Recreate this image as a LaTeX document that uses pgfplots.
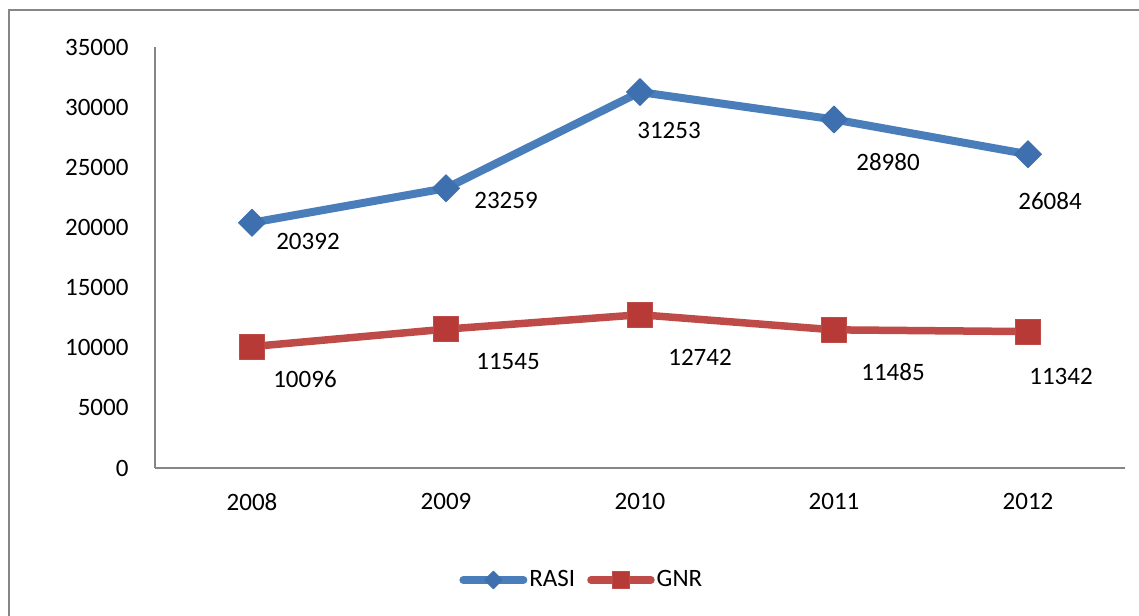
\documentclass[border=0pt]{standalone}
\usepackage{fontspec}
\setmainfont{Carlito}
\usepackage{pgfplots}
\pgfplotsset{compat=1.18}
\usetikzlibrary{calc}
\definecolor{rasi}{HTML}{4A7EBB}
\definecolor{rasimark}{HTML}{3E70B0}
\definecolor{gnr}{HTML}{BE4B48}
\definecolor{gnrmark}{HTML}{B83A36}
\definecolor{axgray}{HTML}{868686}
\begin{document}
\fontsize{25}{30}\selectfont
\begin{tikzpicture}
\begin{axis}[
  name=ax,
  scale only axis, width=970pt, height=421pt,
  xmin=-0.5, xmax=4.5, ymin=0, ymax=35000,
  xtick={0,1,2,3,4}, xticklabels={2008,2009,2010,2011,2012},
  ytick={0,5000,10000,15000,20000,25000,30000,35000},
  axis x line=bottom, axis y line=left,
  axis line style={-, axgray, line width=1.5pt},
  major tick length=0pt,
  /pgf/number format/assume math mode=true,
  /pgf/number format/set thousands separator={},
  scaled y ticks=false,
  tick label style={font=\fontsize{25}{30}\selectfont, text=black},
  yticklabel style={xshift=-18pt},
  xticklabel style={yshift=-17pt},
  clip=false,
  legend columns=2,
  legend style={draw=none, fill=none, at={(0.44,-0.266)}, anchor=center,
    font=\fontsize{25}{30}\selectfont,
    /tikz/every even column/.append style={column sep=10pt}},
  legend image code/.code={\draw[mark repeat=2,mark phase=2, every mark/.append style={scale=0.65}] plot coordinates {(0pt,0pt)(30pt,0pt)(60pt,0pt)};},
]
\addplot[rasi, line width=8pt, line cap=round, line join=round, mark=square*, mark size=9.5pt,
  mark options={rotate=45, fill=rasimark, draw=rasimark, line width=1pt}]
  coordinates {(0,20392)(1,23259)(2,31253)(3,28980)(4,26084)};
\addlegendentry{RASI}
\addplot[gnr, line width=7.5pt, line cap=round, line join=round, mark=square*, mark size=12.5pt,
  mark options={fill=gnrmark, draw=gnr, line width=1pt}]
  coordinates {(0,10096)(1,11545)(2,12742)(3,11485)(4,11342)};
\addlegendentry{GNR}
\node at (axis cs:0,20392) [xshift=56pt, yshift=-19pt] {20392};
\node at (axis cs:1,23259) [xshift=60pt, yshift=-12pt] {23259};
\node at (axis cs:2,31253) [xshift=29pt, yshift=-38pt] {31253};
\node at (axis cs:3,28980) [xshift=54pt, yshift=-43pt] {28980};
\node at (axis cs:4,26084) [xshift=22pt, yshift=-47pt] {26084};
\node at (axis cs:0,10096) [xshift=53pt, yshift=-33pt] {10096};
\node at (axis cs:1,11545) [xshift=62pt, yshift=-32pt] {11545};
\node at (axis cs:2,12742) [xshift=60pt, yshift=-43pt] {12742};
\node at (axis cs:3,11485) [xshift=59pt, yshift=-42pt] {11485};
\node at (axis cs:4,11342) [xshift=33pt, yshift=-45pt] {11342};
\end{axis}
\path[use as bounding box] ($(ax.south west)+(-155pt,-147pt)$) rectangle ($(ax.south west)+(984pt,468pt)$);
\draw[axgray, line width=1.5pt] ($(ax.south west)+(-146pt,-150pt)$) -- ($(ax.south west)+(-146pt,458pt)$) -- ($(ax.south west)+(990pt,458pt)$);
\end{tikzpicture}
\end{document}
